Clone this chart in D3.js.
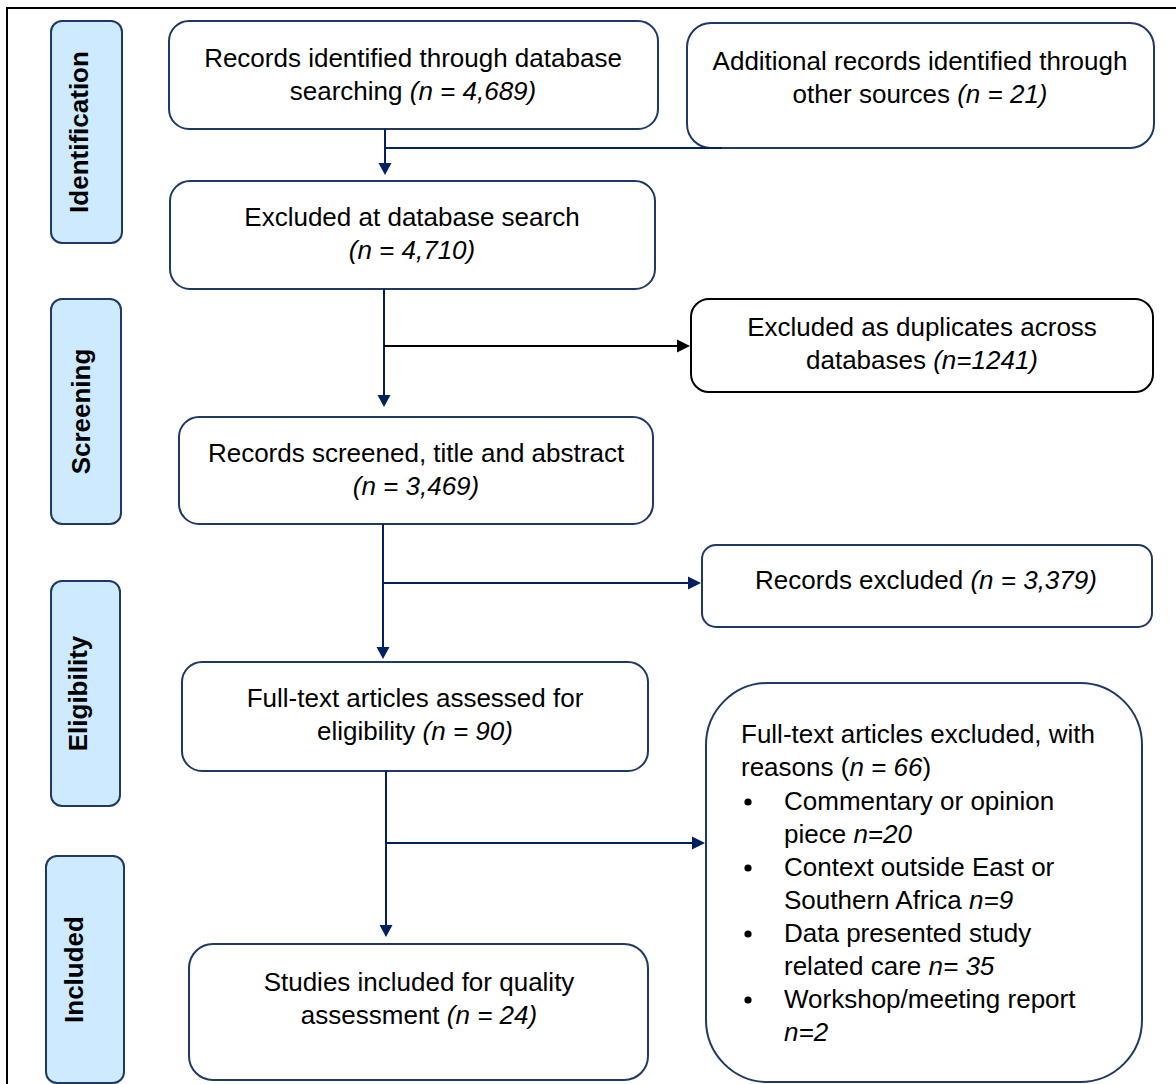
<!DOCTYPE html>
<html>
<head>
<meta charset="utf-8">
<script src="https://cdn.jsdelivr.net/npm/d3@7"></script>
<style>
  html, body { margin: 0; padding: 0; background: #fff; }
  svg { display: block; font-family: "Liberation Sans", Arial, sans-serif; }
</style>
</head>
<body>
<script>
// phase names down the left side
const stageNames = ["Identification", "Screening", "Eligibility", "Included"];

// box texts: each line is a list of [text, italic] pieces
const boxTexts = [
  [[["Records identified through database", false]], [["searching ", false], ["(n = 4,689)", true]]],
  [[["Additional records identified through", false]], [["other sources ", false], ["(n = 21)", true]]],
  [[["Excluded at database search", false]], [["(n = 4,710)", true]]],
  [[["Excluded as duplicates across", false]], [["databases ", false], ["(n=1241)", true]]],
  [[["Records screened, title and abstract", false]], [["(n = 3,469)", true]]],
  [[["Records excluded ", false], ["(n = 3,379)", true]]],
  [[["Full-text articles assessed for", false]], [["eligibility ", false], ["(n = 90)", true]]],
  [[["Studies included for quality", false]], [["assessment ", false], ["(n = 24)", true]]]
];

// exclusion reasons box
const reasonHeader = [[["Full-text articles excluded, with", false]], [["reasons (", false], ["n = 66", true], [")", false]]];
const reasonItems = [
  [[["Commentary or opinion", false]], [["piece ", false], ["n=20", true]]],
  [[["Context outside East or", false]], [["Southern Africa ", false], ["n=9", true]]],
  [[["Data presented study", false]], [["related care ", false], ["n= 35", true]]],
  [[["Workshop/meeting report", false]], [["n=2", true]]]
];

// ---- layout ----
const stagePos = [
  { x: 51, y: 21, w: 71, h: 222, base: 88 },
  { x: 51, y: 299, w: 70, h: 225, base: 90 },
  { x: 51, y: 581, w: 69, h: 225, base: 87 },
  { x: 46, y: 856, w: 78, h: 227, base: 83 }
];
const boxPos = [
  { x: 169, y: 21, w: 489, h: 108, r: 20, cx: 413, ty: 58, stroke: "#1f3864" },
  { x: 687, y: 23, w: 467, h: 125, r: 24, cx: 920, ty: 61, stroke: "#1f3864" },
  { x: 170, y: 181, w: 485, h: 108, r: 20, cx: 412, ty: 217, stroke: "#1f3864" },
  { x: 691, y: 299, w: 462, h: 93, r: 18, cx: 922, ty: 327, stroke: "#000" },
  { x: 179, y: 417, w: 474, h: 107, r: 20, cx: 416, ty: 453, stroke: "#1f3864" },
  { x: 702, y: 545, w: 450, h: 82, r: 14, cx: 926, ty: 580, stroke: "#1f3864" },
  { x: 182, y: 662, w: 466, h: 109, r: 20, cx: 415, ty: 698, stroke: "#1f3864" },
  { x: 189, y: 944, w: 459, h: 136, r: 24, cx: 419, ty: 982, stroke: "#1f3864" }
];
const reasonBox = { x: 706, y: 683, w: 436, h: 399, r: 62, tx: 741, bx: 748, ix: 784, ty: 734 };
const lineGap = 32.5, itemGap = 33.5;

// connectors: vertical trunk + side branch
const flows = [
  { x: 385, y1: 129, y2: 175, by: 148, bx2: 722, head: false, color: "#002060" },
  { x: 384, y1: 289, y2: 407, by: 346, bx2: 690, head: true, color: "#000" },
  { x: 383, y1: 524, y2: 659, by: 583, bx2: 701, head: true, color: "#002060" },
  { x: 386, y1: 771, y2: 937, by: 843, bx2: 705, head: true, color: "#002060" }
];

const W = 1176, H = 1084, FS = 26;
const svg = d3.select("body").append("svg").attr("width", W).attr("height", H);

// outer frame
svg.append("rect").attr("x", 7).attr("y", 8).attr("width", 1300).attr("height", 1300)
  .attr("fill", "none").attr("stroke", "#000").attr("stroke-width", 2);

function writeLine(g, pieces, x, y, anchor) {
  const t = g.append("text").attr("x", x).attr("y", y).attr("text-anchor", anchor)
    .attr("font-size", FS).attr("fill", "#000").attr("xml:space", "preserve");
  pieces.forEach(p => {
    t.append("tspan").text(p[0]).attr("font-style", p[1] ? "italic" : "normal");
  });
  return t;
}

// stage labels
const stages = svg.selectAll("g.stage").data(stageNames).join("g").attr("class", "stage");
stages.append("rect")
  .attr("x", (d, i) => stagePos[i].x).attr("y", (d, i) => stagePos[i].y)
  .attr("width", (d, i) => stagePos[i].w).attr("height", (d, i) => stagePos[i].h)
  .attr("rx", 11).attr("fill", "#cdeafe").attr("stroke", "#1f3864").attr("stroke-width", 2);
stages.append("text")
  .attr("transform", (d, i) => {
    const p = stagePos[i];
    return `translate(${p.base},${p.y + p.h / 2}) rotate(-90)`;
  })
  .attr("text-anchor", "middle").attr("font-size", 26).attr("font-weight", "bold")
  .text(d => d);

// flow boxes
const boxes = svg.selectAll("g.box").data(boxTexts).join("g").attr("class", "box");
boxes.append("rect")
  .attr("x", (d, i) => boxPos[i].x).attr("y", (d, i) => boxPos[i].y)
  .attr("width", (d, i) => boxPos[i].w).attr("height", (d, i) => boxPos[i].h)
  .attr("rx", (d, i) => boxPos[i].r).attr("fill", "#fff")
  .attr("stroke", (d, i) => boxPos[i].stroke).attr("stroke-width", 2);
boxes.each(function (lines, i) {
  const g = d3.select(this), p = boxPos[i];
  lines.forEach((ln, k) => writeLine(g, ln, p.cx, p.ty + k * lineGap + 9, "middle"));
});

// reasons box
const rg = svg.append("g");
rg.append("rect").attr("x", reasonBox.x).attr("y", reasonBox.y)
  .attr("width", reasonBox.w).attr("height", reasonBox.h).attr("rx", reasonBox.r)
  .attr("fill", "#fff").attr("stroke", "#1f3864").attr("stroke-width", 2);
let yy = reasonBox.ty;
reasonHeader.forEach(ln => { writeLine(rg, ln, reasonBox.tx, yy + 9, "start"); yy += lineGap; });
yy += 2;
reasonItems.forEach(item => {
  rg.append("circle").attr("cx", reasonBox.bx).attr("cy", yy + 1).attr("r", 3.6).attr("fill", "#000");
  item.forEach((ln, k) => writeLine(rg, ln, reasonBox.ix, yy + k * lineGap + 9, "start"));
  yy += lineGap + itemGap;
});

// connectors
flows.forEach((f, i) => {
  const g = svg.append("g").attr("stroke-width", 2);
  g.append("line").attr("x1", f.x).attr("x2", f.x).attr("y1", f.y1).attr("y2", f.y2 - 10)
    .attr("stroke", i === 1 ? "#002060" : f.color);
  g.append("path").attr("d", `M${f.x - 6.5},${f.y2 - 12}L${f.x + 6.5},${f.y2 - 12}L${f.x},${f.y2}Z`)
    .attr("fill", i === 1 ? "#002060" : f.color);
  g.append("line").attr("x1", f.x).attr("x2", f.head ? f.bx2 - 10 : f.bx2)
    .attr("y1", f.by).attr("y2", f.by).attr("stroke", f.color);
  if (f.head) {
    g.append("path").attr("d", `M${f.bx2 - 13},${f.by - 6.5}L${f.bx2 - 13},${f.by + 6.5}L${f.bx2},${f.by}Z`)
      .attr("fill", f.color);
  }
});
</script>
</body>
</html>
